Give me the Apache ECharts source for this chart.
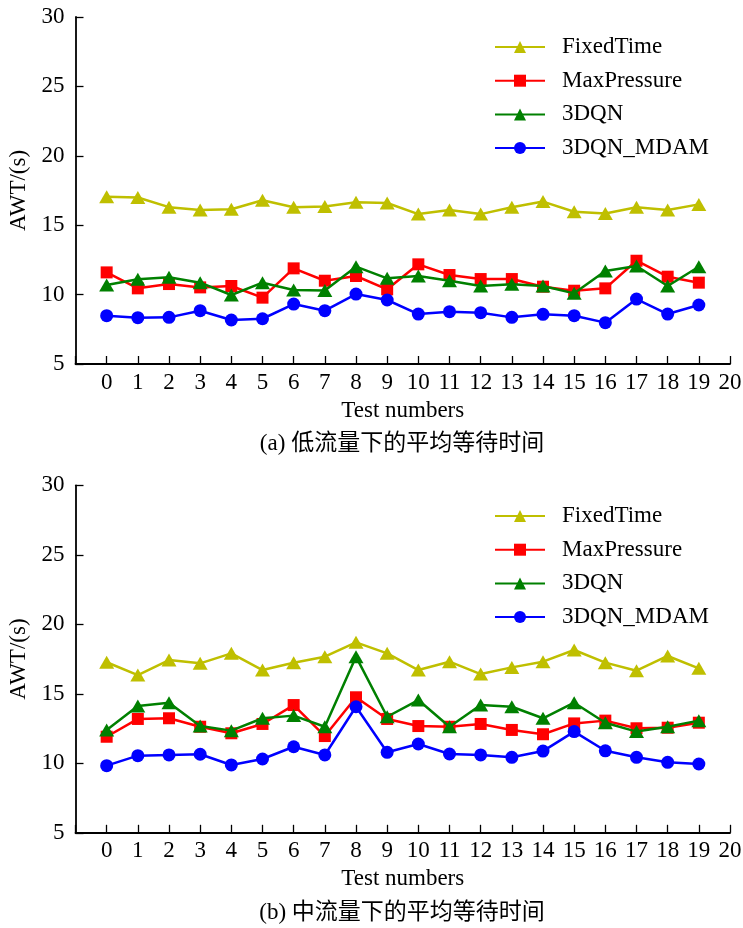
<!DOCTYPE html>
<html><head><meta charset="utf-8">
<script src="https://cdn.jsdelivr.net/npm/echarts@6/dist/echarts.min.js"></script>
<style>html,body{margin:0;padding:0;background:#fff}#c{width:743px;height:928px}</style>
</head><body><div id="c"></div>
<script>
const seriesNames = ['FixedTime', 'MaxPressure', '3DQN', '3DQN_MDAM'];
const testNumbers = [0,1,2,3,4,5,6,7,8,9,10,11,12,13,14,15,16,17,18,19];
const xTickLabels = ['0','1','2','3','4','5','6','7','8','9','10','11','12','13','14','15','16','17','18','19','20'];
const yTickLabels = ['5','10','15','20','25','30'];

// (a) low traffic
const lowFixedTime   = [17.05,17.0,16.3,16.1,16.15,16.8,16.3,16.35,16.65,16.6,15.8,16.1,15.8,16.3,16.7,15.97,15.85,16.3,16.1,16.5];
const lowMaxPressure = [11.6,10.45,10.76,10.52,10.62,9.78,11.89,11.0,11.34,10.38,12.18,11.41,11.12,11.12,10.57,10.28,10.45,12.44,11.29,10.86];
const low3DQN        = [10.69,11.1,11.25,10.86,9.97,10.86,10.33,10.3,12.01,11.17,11.34,11.0,10.62,10.74,10.62,10.09,11.7,12.06,10.62,12.01];
const low3DQN_MDAM   = [8.48,8.34,8.36,8.84,8.17,8.26,9.32,8.84,10.04,9.61,8.6,8.77,8.7,8.36,8.58,8.48,7.98,9.68,8.6,9.25];

// (b) medium traffic
const midFixedTime   = [17.27,16.35,17.43,17.19,17.91,16.71,17.24,17.67,18.7,17.91,16.71,17.31,16.42,16.9,17.31,18.15,17.24,16.66,17.72,16.83];
const midMaxPressure = [11.91,13.19,13.24,12.63,12.16,12.83,14.19,11.96,14.75,13.19,12.68,12.63,12.83,12.4,12.09,12.87,13.07,12.52,12.56,12.92];
const mid3DQN        = [12.4,14.12,14.36,12.68,12.35,13.24,13.43,12.63,17.67,13.35,14.55,12.63,14.19,14.07,13.24,14.36,12.92,12.28,12.63,13.07];
const mid3DQN_MDAM   = [9.83,10.55,10.6,10.65,9.88,10.31,11.19,10.6,14.07,10.79,11.39,10.67,10.6,10.43,10.88,12.28,10.9,10.43,10.07,9.95];

const captions = ['(a) 低流量下的平均等待时间', '(b) 中流量下的平均等待时间'];
const xName = 'Test numbers';
const yName = 'AWT/(s)';

const colors = ['#bfbf00', '#ff0000', '#008000', '#0000ff'];
const symbols = ['triangle', 'rect', 'triangle', 'circle'];
const symbolSizes = [[15,13], 12, [15,13], 13];
const FONT = '"Liberation Serif", "Times New Roman", serif';
const CJK = '"Liberation Serif", "Noto Sans CJK SC", serif';

const chart = echarts.init(document.getElementById('c'), null, {renderer: 'canvas'});

const grids = [
  {left: 75.5, width: 654.5, top: 17, height: 347, outerBoundsMode: 'none', containLabel: false},
  {left: 75.5, width: 654.5, top: 485.3, height: 347.5, outerBoundsMode: 'none', containLabel: false}
];

function xAxis(i) {
  return {
    type: 'value', gridIndex: i, min: -1, max: 20, interval: 1,
    name: xName, nameLocation: 'middle', nameGap: 35,
    nameTextStyle: {fontFamily: FONT, fontSize: 23, color: '#000'},
    axisLine: {show: true, onZero: false, lineStyle: {color: '#000', width: 1.8}},
    axisTick: {show: true, inside: true, length: 8, lineStyle: {color: '#000', width: 1.3}},
    axisLabel: {fontFamily: FONT, fontSize: 23, color: '#000', margin: 7,
      formatter: v => (v >= 0 ? xTickLabels[v] : '')},
    splitLine: {show: false}
  };
}
function yAxis(i) {
  return {
    type: 'value', gridIndex: i, min: 5, max: 30, interval: 5,
    name: yName, nameLocation: 'middle', nameGap: 39,
    nameTextStyle: {fontFamily: FONT, fontSize: 23, color: '#000'},
    axisLine: {show: true, onZero: false, lineStyle: {color: '#000', width: 1.8}},
    axisTick: {show: true, inside: true, length: 8, lineStyle: {color: '#000', width: 1.3}},
    axisLabel: {fontFamily: FONT, fontSize: 23, color: '#000', margin: 11,
      formatter: v => yTickLabels[(v - 5) / 5]},
    splitLine: {show: false}
  };
}

const dataSets = [
  [lowFixedTime, lowMaxPressure, low3DQN, low3DQN_MDAM],
  [midFixedTime, midMaxPressure, mid3DQN, mid3DQN_MDAM]
];

const series = [];
dataSets.forEach((set, g) => {
  set.forEach((vals, k) => {
    series.push({
      name: seriesNames[k], type: 'line', xAxisIndex: g, yAxisIndex: g,
      data: testNumbers.map((x, j) => [x, vals[j]]),
      symbol: symbols[k], symbolSize: symbolSizes[k], showAllSymbol: true,
      lineStyle: {color: colors[k], width: 2.5},
      itemStyle: {color: colors[k]},
      z: 2 + k
    });
  });
});

function legend(top) {
  return {
    data: seriesNames, orient: 'vertical', left: 494, top: top, padding: 0,
    itemWidth: 50, itemHeight: 15, itemGap: 9.7,
    selectedMode: false,
    textStyle: {fontFamily: FONT, fontSize: 23, color: '#000', lineHeight: 24, padding: [0,0,0,12]}
  };
}

chart.setOption({
  animation: false,
  backgroundColor: '#fff',
  grid: grids,
  xAxis: [xAxis(0), xAxis(1)],
  yAxis: [yAxis(0), yAxis(1)],
  legend: [legend(35), legend(504)],
  series: series,
  graphic: [
    {type: 'text', x: 402, y: 444,
      style: {text: captions[0], font: '23px ' + CJK, fill: '#000', align: 'center', verticalAlign: 'middle'}},
    {type: 'text', x: 402, y: 913,
      style: {text: captions[1], font: '23px ' + CJK, fill: '#000', align: 'center', verticalAlign: 'middle'}}
  ]
});
</script></body></html>
